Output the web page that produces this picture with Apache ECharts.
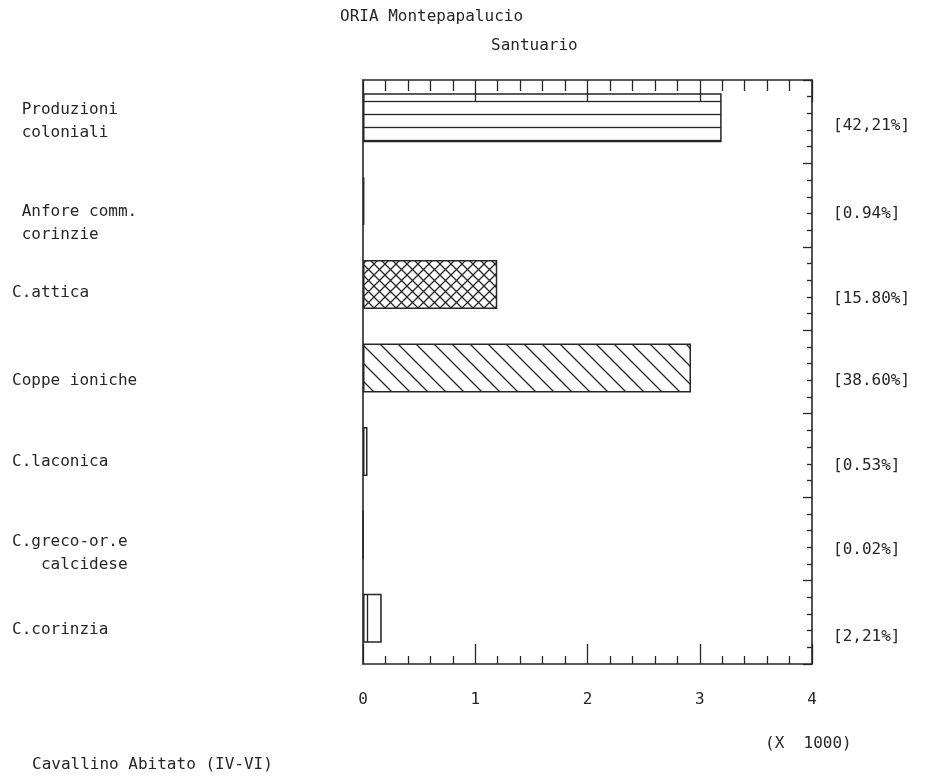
<!DOCTYPE html>
<html>
<head>
<meta charset="utf-8">
<title>ORIA Montepapalucio – Santuario</title>
<script src="https://cdn.jsdelivr.net/npm/echarts@6/dist/echarts.min.js"></script>
<style>
  html, body { margin: 0; padding: 0; background: #ffffff; }
  #chart { width: 943px; height: 776px; }
</style>
</head>
<body>
<div id="chart"></div>
<script>
// Categories (top to bottom), sherd counts and their shares of the total
const categories = [
  ' Produzioni\n coloniali',
  ' Anfore comm.\n corinzie',
  'C.attica',
  'Coppe ioniche',
  'C.laconica',
  'C.greco-or.e\n   calcidese',
  'C.corinzia'
];
const counts = [3195, 12, 1196, 2922, 40, 2, 167];
const shareLabels = ['[42,21%]', '[0.94%]', '[15.80%]', '[38.60%]', '[0.53%]', '[0.02%]', '[2,21%]'];
const xTickLabels = ['0', '1', '2', '3', '4'];

const INK = '#262626';
const FONT = 'DejaVu Sans Mono';

// hatch fills for the bars
function hatch(w, h, draw) {
  const c = document.createElement('canvas');
  c.width = w; c.height = h;
  const g = c.getContext('2d');
  g.strokeStyle = INK;
  g.lineWidth = 1.3;
  g.beginPath();
  draw(g, w, h);
  g.stroke();
  return { image: c, repeat: 'repeat' };
}
const fillHorizontal = hatch(6, 13, (g, w) => { g.moveTo(0, 10.5); g.lineTo(w, 10.5); });
const fillCross = hatch(11, 11, (g, w, h) => {
  g.moveTo(0, 0); g.lineTo(w, h);
  g.moveTo(0, h); g.lineTo(w, 0);
});
const fillBackslash = hatch(18, 18, (g, w, h) => {
  g.moveTo(-1, -1); g.lineTo(w + 1, h + 1);
  g.moveTo(w - 1, -1); g.lineTo(w + 1, 1);
  g.moveTo(-1, h - 1); g.lineTo(1, h + 1);
});
const fillVertical = hatch(14, 4, (g, w, h) => { g.moveTo(3.5, 0); g.lineTo(3.5, h); });
const barFills = [fillHorizontal, 'rgba(0,0,0,0)', fillCross, fillBackslash, fillVertical, 'rgba(0,0,0,0)', fillVertical];

// vertical nudges (px, downwards) of the text next to each row
const leftNudge = [0, 18, 4, 9, 6, 14, 8];
const rightNudge = [8, 13, 14, 13, 14, 15, 19];
const LINE_H = 23;

const text = { fontFamily: FONT, fontSize: 16, color: INK };
const frameLine = { show: true, onZero: false, lineStyle: { color: INK, width: 1.6 } };

// rich styles: top padding on every line of a label moves the label down
function nudgeRich(nudges) {
  const rich = {};
  nudges.forEach((d, i) => {
    rich['n' + i] = Object.assign({ lineHeight: LINE_H, padding: [2 * d, 0, 0, 0] }, text);
  });
  return rich;
}
function nudgeFormatter(value, index) {
  return String(value).split('\n')
    .map(ln => '{n' + index + '|' + ln + '}')
    .join('\n');
}

const chart = echarts.init(document.getElementById('chart'), null, { renderer: 'canvas' });

chart.setOption({
  backgroundColor: '#ffffff',
  animation: false,
  title: [
    { text: 'ORIA Montepapalucio', left: 340, top: 9, padding: 0, textStyle: Object.assign({ fontWeight: 'normal' }, text) },
    { text: 'Santuario', left: 491, top: 38, padding: 0, textStyle: Object.assign({ fontWeight: 'normal' }, text) },
    { text: '(X  1000)', left: 765, top: 736, padding: 0, textStyle: Object.assign({ fontWeight: 'normal' }, text) },
    { text: 'Cavallino Abitato (IV-VI)', left: 32, top: 757, padding: 0, textStyle: Object.assign({ fontWeight: 'normal' }, text) }
  ],
  grid: [
    // frame with its ticks and the row names
    { left: 363, right: 131, top: 80, bottom: 112, containLabel: false, outerBoundsMode: 'none' },
    // bars and the share labels
    { left: 363, right: 131, top: 76, bottom: 116, containLabel: false, outerBoundsMode: 'none' }
  ],
  xAxis: [
    {
      gridIndex: 0, type: 'value', position: 'bottom', min: 0, max: 4000, interval: 1000,
      axisLine: frameLine,
      axisTick: { show: true, inside: true, length: 20, lineStyle: { color: INK, width: 1.3 } },
      minorTick: { show: true, splitNumber: 5, length: 8, lineStyle: { color: INK, width: 1.3 } },
      splitLine: { show: false },
      axisLabel: Object.assign({ margin: 28, formatter: v => xTickLabels[Math.round(v / 1000)] }, text)
    },
    {
      gridIndex: 0, type: 'value', position: 'top', min: 0, max: 4000, interval: 1000,
      axisLine: frameLine,
      axisTick: { show: true, inside: true, length: 22, lineStyle: { color: INK, width: 1.3 } },
      minorTick: { show: true, splitNumber: 5, length: 11, lineStyle: { color: INK, width: 1.3 } },
      splitLine: { show: false },
      axisLabel: { show: false }
    },
    {
      gridIndex: 1, type: 'value', min: 0, max: 4000, show: false
    }
  ],
  yAxis: [
    {
      gridIndex: 0, type: 'category', position: 'left', inverse: true,
      data: categories,
      axisLine: frameLine,
      axisTick: { show: false },
      axisLabel: Object.assign({
        align: 'left', margin: 351, lineHeight: LINE_H, interval: 0,
        formatter: nudgeFormatter, rich: nudgeRich(leftNudge)
      }, text)
    },
    {
      gridIndex: 0, type: 'value', position: 'right', min: 0, max: 7, interval: 1,
      axisLine: frameLine,
      axisTick: { show: true, inside: true, length: 9, lineStyle: { color: INK, width: 1.3 } },
      minorTick: { show: true, splitNumber: 5, length: 5, lineStyle: { color: INK, width: 1.3 } },
      splitLine: { show: false },
      axisLabel: { show: false }
    },
    {
      gridIndex: 1, type: 'category', position: 'right', inverse: true,
      data: shareLabels,
      axisLine: { show: false, onZero: false },
      axisTick: { show: false },
      axisLabel: Object.assign({
        align: 'left', margin: 21, lineHeight: LINE_H, interval: 0,
        formatter: nudgeFormatter, rich: nudgeRich(rightNudge)
      }, text)
    }
  ],
  series: [
    {
      type: 'bar',
      xAxisIndex: 2,
      yAxisIndex: 2,
      barWidth: 49,
      data: counts.map((v, i) => ({
        value: v,
        itemStyle: { color: barFills[i], borderColor: INK, borderWidth: 1.5 }
      })),
      z: 3
    }
  ]
});
</script>
</body>
</html>
